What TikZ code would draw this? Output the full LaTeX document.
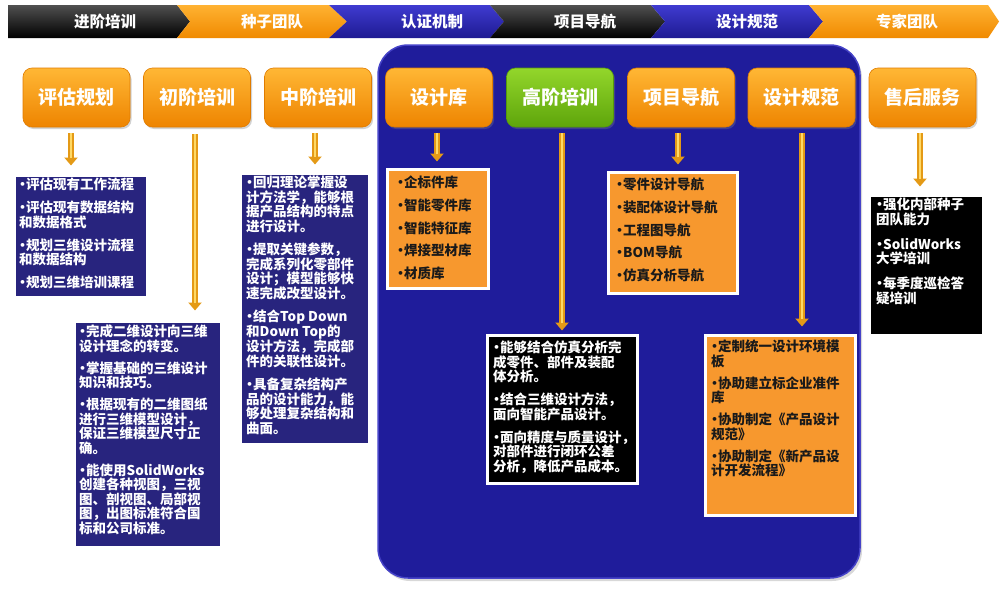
\documentclass[tikz,border=0pt]{standalone}
\usepackage{fontspec}
\setmainfont{Noto Sans CJK SC}
\usetikzlibrary{shadows,calc,arrows.meta}
\definecolor{navybox}{HTML}{28247E}
\definecolor{panelblue}{HTML}{1F1C9B}
\definecolor{panelrim}{HTML}{4643C8}
\definecolor{ortop}{HTML}{FFB735}
\definecolor{orbot}{HTML}{EE8400}
\definecolor{ordraw}{HTML}{E07C00}
\definecolor{grtop}{HTML}{93D62B}
\definecolor{grbot}{HTML}{5EA50B}
\definecolor{grdraw}{HTML}{559A0A}
\definecolor{boxor}{HTML}{F7982E}
\definecolor{gold}{HTML}{E49A16}
\definecolor{goldhl}{HTML}{FFD965}
\definecolor{chbtop}{HTML}{505050}
\definecolor{chbbot}{HTML}{000000}
\definecolor{chotop}{HTML}{FFB232}
\definecolor{chobot}{HTML}{F08A00}
\definecolor{chutop}{HTML}{3F3BD0}
\definecolor{chubot}{HTML}{1E1A92}
\definecolor{darktext}{HTML}{1A1A1A}
\newcommand\bdot{\makebox[7pt][c]{·}}
\begin{document}
\begin{tikzpicture}[x=1pt,y=-1pt,
  hdr/.style={rounded corners=9pt, minimum width=107pt, minimum height=59pt, inner sep=0pt,
    top color=ortop, bottom color=orbot, draw=ordraw, line width=0.6pt, text=white,
    font=\fontsize{19}{22}\selectfont\bfseries,
    drop shadow={opacity=0.35, shadow xshift=1.5pt, shadow yshift=-2pt}},
  hdrg/.style={hdr, top color=grtop, bottom color=grbot, draw=grdraw},
  cbox/.style={draw=white, line width=3pt, inner sep=0pt,
    drop shadow={opacity=0.3, shadow xshift=2pt, shadow yshift=-2pt}},
  panel/.style={rounded corners=30pt, fill=panelblue, draw=panelrim, line width=1.5pt,
    drop shadow={opacity=0.3, shadow xshift=2pt, shadow yshift=-3pt}},
  txt/.style={anchor=north west, inner sep=0pt, align=left, text=white,
    font=\fontsize{13.5}{14.5}\selectfont\bfseries},
  txtd/.style={txt, text=darktext},
  bartxt/.style={text=white, font=\fontsize{15.5}{17}\selectfont\bfseries, inner sep=0pt},
  arr/.style={draw=gold, line width=5.5pt, -{Triangle[width=13pt,length=8pt]},
    postaction={draw=goldhl, line width=2pt, -, shorten >=8pt}}
]
\useasboundingbox (0,0) rectangle (1006,589);
\fill[white] (0,0) rectangle (1006,589);

% top chevron bar
\shade[top color=chbtop, bottom color=chbbot] (8,5) -- (177,5) -- (190,21.5) -- (177,38) -- (8,38) -- cycle;
\shade[top color=chotop, bottom color=chobot] (177,5) -- (329,5) -- (347,21.5) -- (329,38) -- (177,38) -- (190,21.5) -- cycle;
\shade[top color=chutop, bottom color=chubot] (329,5) -- (490,5) -- (504,21.5) -- (490,38) -- (329,38) -- (347,21.5) -- cycle;
\shade[top color=chbtop, bottom color=chbbot] (490,5) -- (651,5) -- (665,21.5) -- (651,38) -- (490,38) -- (504,21.5) -- cycle;
\shade[top color=chutop, bottom color=chubot] (651,5) -- (809,5) -- (823,21.5) -- (809,38) -- (651,38) -- (665,21.5) -- cycle;
\shade[top color=chotop, bottom color=chobot] (809,5) -- (988,5) -- (999,21.5) -- (988,38) -- (809,38) -- (823,21.5) -- cycle;
\node[bartxt] (t1) at (105,21.5) {进阶培训};
\node[bartxt] (t2) at (272,21.5) {种子团队};
\node[bartxt] (t3) at (432,21.5) {认证机制};
\node[bartxt] (t4) at (585,21.5) {项目导航};
\node[bartxt] (t5) at (747,21.5) {设计规范};
\node[bartxt] (t6) at (907,21.5) {专家团队};

% panel
\node[panel, minimum width=482pt, minimum height=533pt] (panel) at (619,311.5) {};

% headers
\node[hdr]  (h1) at (76.5,97.5) {评估规划};
\node[hdr]  (h2) at (197,97.5) {初阶培训};
\node[hdr]  (h3) at (318,97.5) {中阶培训};
\node[hdr]  (h4) at (439,97.5) {设计库};
\node[hdrg] (h5) at (560,97.5) {高阶培训};
\node[hdr]  (h6) at (681,97.5) {项目导航};
\node[hdr]  (h7) at (801.5,97.5) {设计规范};
\node[hdr]  (h8) at (922.5,97.5) {售后服务};

% content boxes
\node[cbox, fill=navybox, minimum width=133pt, minimum height=122pt] (b1) at (80.5,236) {};
\node[cbox, fill=navybox, minimum width=147pt, minimum height=226pt] (b2) at (147.5,434) {};
\node[cbox, fill=navybox, minimum width=129pt, minimum height=271pt] (b3) at (304.5,308.5) {};
\node[cbox, fill=boxor, minimum width=101pt, minimum height=119pt] (b4) at (437.5,228.5) {};
\node[cbox, fill=black, minimum width=150pt, minimum height=148pt] (b5) at (562,409) {};
\node[cbox, fill=boxor, minimum width=129pt, minimum height=121pt] (b6) at (672.5,232.5) {};
\node[cbox, fill=boxor, minimum width=150pt, minimum height=180pt] (b7) at (780,425) {};
\node[cbox, fill=black, minimum width=114pt, minimum height=140pt] (b8) at (926,265) {};

% arrows
\draw[arr] ($(h1.south)+(-5.5,6)$) -- ($(b1.north)+(-9.5,-8)$);
\draw[arr] ($(h2.south)+(-2,7)$) -- ($(b2.north)+(47.5,-9)$);
\draw[arr] ($(h3.south)+(-3,6)$) -- ($(b3.north)+(10.5,-7)$);
\draw[arr] ($(h4.south)+(-2,6)$) -- ($(b4.north)+(-0.5,-6)$);
\draw[arr] ($(h5.south)+(2,6)$) -- ($(b5.north)+(0,-3)$);
\draw[arr] ($(h6.south)+(-3,6)$) -- ($(b6.north)+(5.5,-6)$);
\draw[arr] ($(h7.south)+(0.5,6)$) -- ($(b7.north)+(22,-7)$);
\draw[arr] ($(h8.south)+(-2.5,6)$) -- ($(b8.north)+(-6,-7)$);

% texts
\node[txt] (x1) at (19,178) {\bdot 评估现有工作流程\\[8.5pt]
\bdot 评估现有数据结构\\和数据格式\\[8.5pt]
\bdot 规划三维设计流程\\和数据结构\\[8.5pt]
\bdot 规划三维培训课程};
\node[txt] (x2) at (79,325) {\bdot 完成二维设计向三维\\设计理念的转变。\\[7.5pt]
\bdot 掌握基础的三维设计\\知识和技巧。\\[7.5pt]
\bdot 根据现有的二维图纸\\进行三维模型设计，\\保证三维模型尺寸正\\确。\\[7.5pt]
\bdot 能使用SolidWorks\\创建各种视图，三视\\图、剖视图、局部视\\图，出图标准符合国\\标和公司标准。};
\node[txt] (x3) at (246,176) {\bdot 回归理论掌握设\\计方法学，能够根\\据产品结构的特点\\进行设计。\\[9pt]
\bdot 提取关键参数，\\完成系列化零部件\\设计；模型能够快\\速完成改型设计。\\[9pt]
\bdot 结合Top Down\\和Down Top的\\设计方法，完成部\\件的关联性设计。\\[9pt]
\bdot 具备复杂结构产\\品的设计能力，能\\够处理复杂结构和\\曲面。};
\node[txtd] (x4) at (397,176) {\bdot 企标件库\\[8.2pt]\bdot 智能零件库\\[8.2pt]\bdot 智能特征库\\[8.2pt]\bdot 焊接型材库\\[8.2pt]\bdot 材质库};
\node[txt] (x5) at (493,341) {\bdot 能够结合仿真分析完\\成零件、部件及装配\\体分析。\\[8.5pt]
\bdot 结合三维设计方法，\\面向智能产品设计。\\[8.5pt]
\bdot 面向精度与质量设计，\\对部件进行闭环公差\\分析，降低产品成本。};
\node[txtd] (x6) at (616,178) {\bdot 零件设计导航\\[8.2pt]\bdot 装配体设计导航\\[8.2pt]\bdot 工程图导航\\[8.2pt]\bdot BOM导航\\[8.2pt]\bdot 仿真分析导航};
\node[txtd] (x7) at (711,340) {\bdot 定制统一设计环境模\\板\\[7.5pt]
\bdot 协助建立标企业准件\\库\\[7.5pt]
\bdot 协助制定《产品设计\\规范》\\[7.5pt]
\bdot 协助制定《新产品设\\计开发流程》};
\node[txt] (x8) at (876,198) {\bdot 强化内部种子\\团队能力\\[10.5pt]
\bdot SolidWorks\\大学培训\\[10.5pt]
\bdot 每季度巡检答\\疑培训};
\end{tikzpicture}
\end{document}
